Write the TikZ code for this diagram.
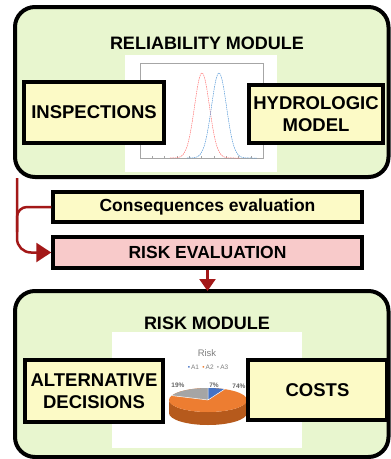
\documentclass[tikz,border=0pt]{standalone}
\usepackage{fontspec}
\setmainfont{Liberation Sans}
\usetikzlibrary{arrows.meta}
\definecolor{modgreen}{HTML}{E8F6CF}
\definecolor{boxyellow}{HTML}{FCFAC6}
\definecolor{boxpink}{HTML}{F8CACA}
\definecolor{arrred}{HTML}{A31818}
\definecolor{pieorange}{HTML}{ED7D31}
\definecolor{piedark}{HTML}{B65A1C}
\definecolor{piegray}{HTML}{A5A5A5}
\definecolor{pieblue}{HTML}{4472C4}
\definecolor{txtgray}{HTML}{7F7F7F}
\tikzset{
  module/.style={draw=black, line width=4pt, fill=modgreen, rounded corners=20pt},
  sidebox/.style={draw=black, line width=4pt, fill=boxyellow, align=center,
    font=\fontsize{18.5}{22}\selectfont\bfseries, inner sep=0pt},
  barbox/.style={draw=black, line width=3.5pt, align=center, inner sep=0pt,
    font=\fontsize{17.5}{21}\selectfont\bfseries},
  title/.style={font=\fontsize{18}{22}\selectfont\bfseries, inner sep=0pt},
  redline/.style={draw=arrred, line width=2.5pt},
  redtip/.style={-{Triangle[length=15pt,width=19pt]}},
}
\begin{document}
\begin{tikzpicture}[x=1pt,y=-1pt]
\useasboundingbox (0,0) rectangle (391,459);
% ---------- top module ----------
\draw[module] (15,7) rectangle (388.5,177);
\node[title] (reltitle) at (207,43) {RELIABILITY MODULE};
% Gaussian plot image
\fill[white] (125,55) rectangle (277,172);
\draw[gray!70, line width=0.4pt] (140,63) rectangle (263,158);
\foreach \i in {0,...,10} {\draw[gray!70, line width=0.3pt] (140+\i*12.3,158) -- (140+\i*12.3,156);}
\foreach \j in {0,...,4} {\draw[gray!70, line width=0.3pt] (140,158-\j*23.75) -- (142,158-\j*23.75);}
\draw[red!55, dashed, line width=0.5pt, dash pattern=on 1.5pt off 0.8pt]
  plot[domain=170:240, samples=80, smooth] (\x,{158-85*exp(-((\x-202)/7.5)^2/2)});
\draw[cyan!60!blue!70, dashed, line width=0.5pt, dash pattern=on 1.5pt off 0.8pt]
  plot[domain=187:257, samples=80, smooth] (\x,{158-85*exp(-((\x-219)/7.5)^2/2)});
\node[sidebox, minimum width=140pt, minimum height=61pt] (insp) at (94,112.5) {INSPECTIONS};
\node[sidebox, minimum width=134pt, minimum height=58pt] (hydro) at (316,114) {HYDROLOGIC\\MODEL};
% ---------- middle bars ----------
\node[barbox, fill=boxyellow, minimum width=309pt, minimum height=30pt] (cons) at (207.5,207) {Consequences evaluation};
\node[barbox, fill=boxpink, minimum width=309pt, minimum height=31pt] (risk) at (207.5,252.5) {RISK EVALUATION};
% ---------- bottom module ----------
\draw[module] (15,291) rectangle (388.5,457);
\node[title] (risktitle) at (207,323) {RISK MODULE};
% Pie chart image
\fill[white] (112,332) rectangle (302,448);
\node[text=txtgray, font=\fontsize{9.5}{10}\selectfont, inner sep=0pt] (risklbl) at (207,353) {Risk};
\node[text=txtgray, font=\fontsize{6.5}{7}\selectfont, inner sep=0pt] (legend) at (208,367)
  {\textcolor{pieblue}{\textbullet}\,A1\enspace\textcolor{pieorange}{\textbullet}\,A2\enspace\textcolor{piegray}{\textbullet}\,A3};
\node[text=txtgray!80!black, font=\fontsize{6.5}{7}\selectfont\bfseries, inner sep=0pt] (p19) at (178,385) {19\%};
\node[text=txtgray!80!black, font=\fontsize{6.5}{7}\selectfont\bfseries, inner sep=0pt] (p7) at (214,385) {7\%};
\node[text=txtgray!80!black, font=\fontsize{6.5}{7}\selectfont\bfseries, inner sep=0pt] (p74) at (239,386) {74\%};
\begin{scope}[shift={(208pt,-400pt)}]
  \fill[piedark] (-39pt,0pt) arc[start angle=180,end angle=360,x radius=39pt,y radius=12pt]
     -- (39pt,-13pt) arc[start angle=0,end angle=-180,x radius=39pt,y radius=12pt] -- cycle;
  \fill[pieorange] (0pt,0pt) ellipse[x radius=39pt,y radius=12pt];
  \fill[piegray] (0pt,0pt) -- (90:39pt and 12pt) arc[start angle=90,end angle=158.4,x radius=39pt,y radius=12pt] -- cycle;
  \fill[pieblue] (0pt,0pt) -- (64.8:39pt and 12pt) arc[start angle=64.8,end angle=90,x radius=39pt,y radius=12pt] -- cycle;
  \draw[white, line width=0.5pt] (0pt,0pt) -- (90:39pt and 12pt) (0pt,0pt) -- (158.4:39pt and 12pt) (0pt,0pt) -- (64.8:39pt and 12pt);
\end{scope}
\node[sidebox, minimum width=138pt, minimum height=62pt] (alt) at (94,391) {ALTERNATIVE\\DECISIONS};
\node[sidebox, minimum width=139pt, minimum height=60pt] (costs) at (317.5,390) {COSTS};
% ---------- connectors ----------
\coordinate (srcTop) at (17,178);
\coordinate (joinPt) at (17,232);
\draw[redline, redtip, rounded corners=14pt] (srcTop) |- (risk.west);
\draw[redline, rounded corners=10pt] (cons.west) -| (joinPt);
\draw[redline, -{Triangle[length=12pt,width=16pt]}] (risk.south) -- (207.5,291);
\end{tikzpicture}
\end{document}
